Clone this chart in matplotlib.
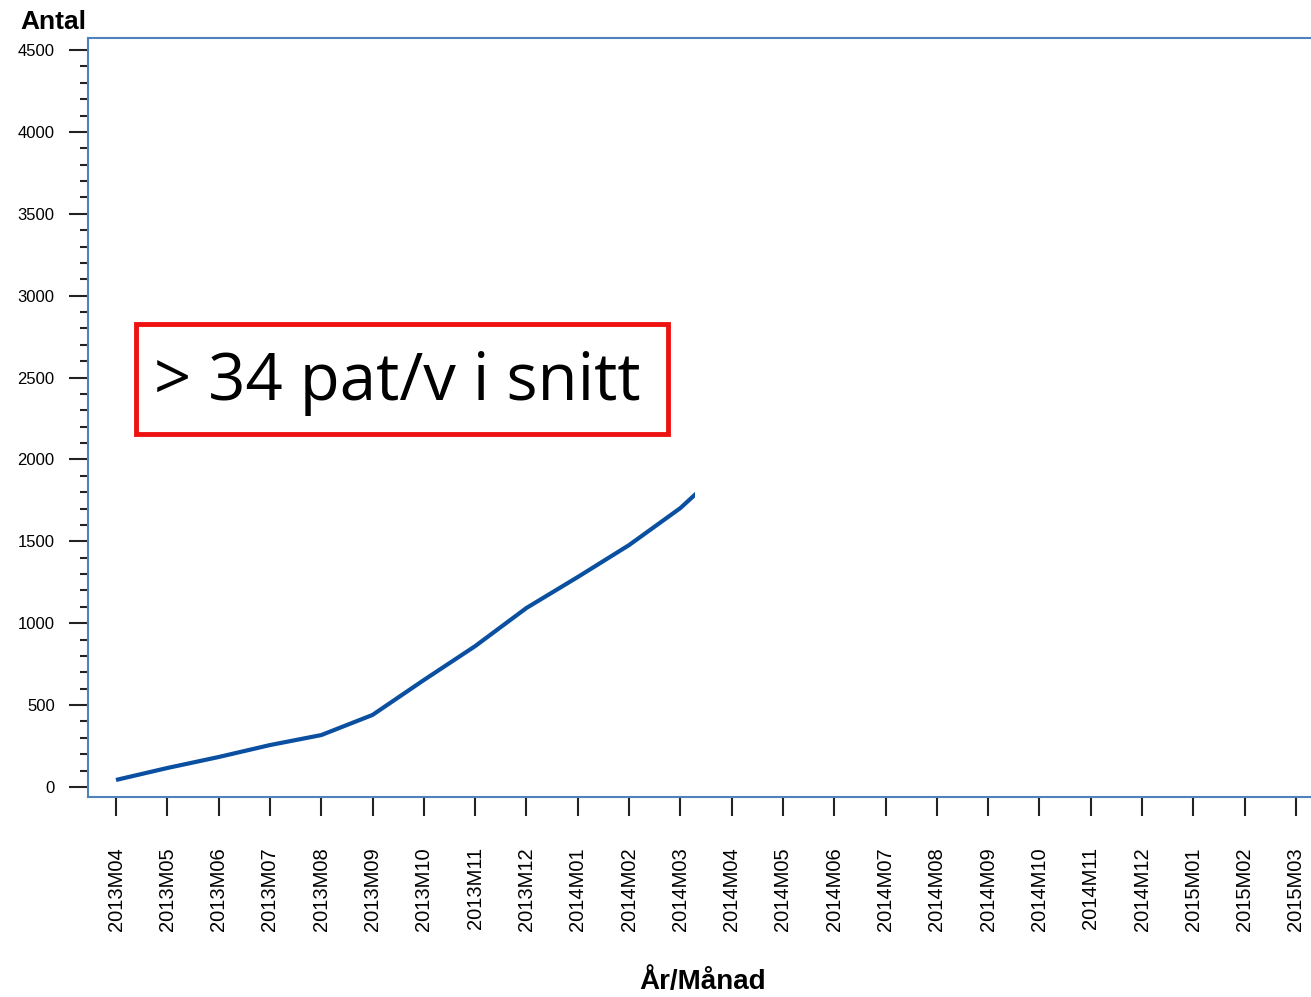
import matplotlib
matplotlib.use("Agg")
import matplotlib.pyplot as plt
from matplotlib.patches import Rectangle
from matplotlib.ticker import MultipleLocator

months = ["2013M04", "2013M05", "2013M06", "2013M07", "2013M08", "2013M09",
          "2013M10", "2013M11", "2013M12", "2014M01", "2014M02", "2014M03",
          "2014M04", "2014M05", "2014M06", "2014M07", "2014M08", "2014M09",
          "2014M10", "2014M11", "2014M12", "2015M01", "2015M02", "2015M03"]
antal = [43, 116, 183, 256, 317, 440, 653, 860, 1093, 1282, 1477, 1703, 1990]
visible_until = 11.28
annotation = "> 34 pat/v i snitt"

W, H = 1311, 997
fig = plt.figure(figsize=(W / 100, H / 100), dpi=100)
fig.patch.set_facecolor("white")

left, right, top, bottom = 88, 1330, 38, 797
ax = fig.add_axes([left / W, 1 - bottom / H, (right - left) / W, (bottom - top) / H])

x0_px, dx_px = 116, (1296 - 116) / 23
ax.set_xlim((left - x0_px) / dx_px, (right - x0_px) / dx_px)
y0_px, dy_px = 787, (787 - 50) / 4500
ax.set_ylim(-(bottom - y0_px) / dy_px, (y0_px - top) / dy_px)

xs = list(range(len(antal)))
line, = ax.plot(xs, antal, color="#0A4FA0", linewidth=3.0, solid_capstyle="butt")
clip = Rectangle((-1, -1000), visible_until + 1, 10000, transform=ax.transData)
line.set_clip_path(clip)

spine_color = "#4F81BD"
for s in ["left", "top", "bottom"]:
    ax.spines[s].set_color(spine_color)
    ax.spines[s].set_linewidth(1.5)
ax.spines["right"].set_visible(False)

ax.yaxis.set_major_locator(MultipleLocator(500))
ax.yaxis.set_minor_locator(MultipleLocator(100))
ax.tick_params(axis="y", which="major", direction="out", length=14, width=1.5,
               color="#222222", pad=10, labelsize=12)
ax.tick_params(axis="y", which="minor", direction="out", length=6, width=1.5,
               color="#222222")
for lab in ax.get_yticklabels():
    lab.set_family("Liberation Sans")

ax.set_xticks(range(len(months)))
ax.set_xticklabels(months, rotation=90, family="Liberation Sans", fontsize=14.5)
ax.tick_params(axis="x", which="major", direction="out", length=14, width=1.5,
               color="#222222", pad=22)
ax.tick_params(axis="x", which="minor", bottom=False)

fig.text(20 / W, 1 - 22 / H, "Antal", fontsize=19, fontweight="bold",
         family="Liberation Sans", ha="left", va="center")
fig.text(703 / W, 1 - 982 / H, "År/Månad", fontsize=20, fontweight="bold",
         family="Liberation Sans", ha="center", va="center")

# red annotation box
fig.patches.append(Rectangle((136 / W, 1 - 434 / H), (668 - 136) / W, (434 - 324) / H,
                             transform=fig.transFigure, fill=True, facecolor="white",
                             edgecolor="#EE1111", linewidth=3.5, zorder=5))
fig.text(397 / W, 1 - 383 / H, annotation, fontsize=47, family="Open Sans",
         ha="center", va="center", color="black", zorder=6)

fig.savefig("out.png", dpi=100, facecolor="white")
